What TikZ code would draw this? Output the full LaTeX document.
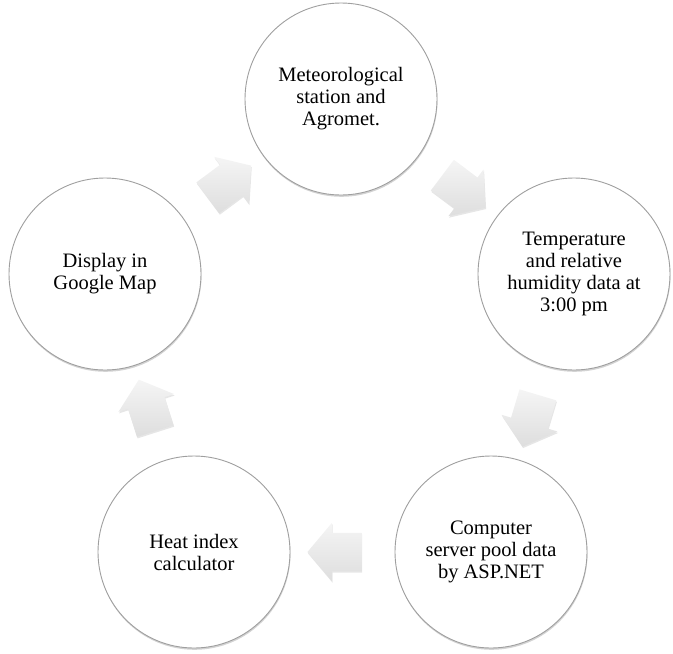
\documentclass[tikz,border=0pt]{standalone}
\usepackage{fontspec}
\setmainfont{Liberation Serif}
\usetikzlibrary{shadows,shapes.arrows}
\begin{document}
\begin{tikzpicture}[x=1pt,y=-1pt,
  stage/.style={circle, draw=gray!75, line width=0.9pt, fill=white,
    minimum size=192pt, inner sep=0pt, align=center,
    font=\fontsize{20.5}{22}\selectfont,
    drop shadow={shadow xshift=0.5pt, shadow yshift=-1.8pt, opacity=0.35}},
  cyclearrow/.style={single arrow, draw=none, top color=gray!8, bottom color=gray!26,
    minimum height=54pt, single arrow head extend=10pt,
    single arrow tip angle=100, inner sep=0pt,
    drop shadow={shadow xshift=0.6pt, shadow yshift=-1.5pt, opacity=0.2},
    midway, sloped, allow upside down}]
\useasboundingbox (0,0) rectangle (673,654);
\node[stage] (met) at (341,99) {Meteorological\\station and\\Agromet.};
\node[stage] (temp) at (574,274) {Temperature\\and relative\\humidity data at\\3:00 pm};
\node[stage] (srv) at (491,552) {Computer\\server pool data\\by ASP.NET};
\node[stage] (heat) at (194,552) {Heat index\\calculator};
\node[stage] (map) at (105,274) {Display in\\Google Map};
\path (met) -- (temp) node[cyclearrow] (a1) {\rule{0pt}{38pt}};
\path (temp) -- (srv) node[cyclearrow] (a2) {\rule{0pt}{38pt}};
\path (srv) -- (heat) node[cyclearrow] (a3) {\rule{0pt}{38pt}};
\path (heat) -- (map) node[cyclearrow] (a4) {\rule{0pt}{38pt}};
\path (map) -- (met) node[cyclearrow] (a5) {\rule{0pt}{38pt}};
\end{tikzpicture}
\end{document}
